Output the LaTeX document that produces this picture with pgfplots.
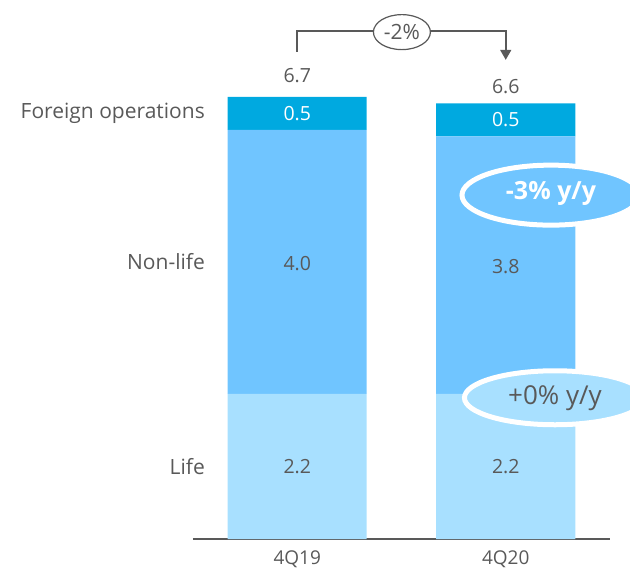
\documentclass[border=0pt]{standalone}
\usepackage{pgfplots}
\pgfplotsset{compat=1.18}
\usepackage{fontspec}
\setmainfont{Open Sans}
\usetikzlibrary{arrows.meta}
\definecolor{cfo}{HTML}{00A9E0}
\definecolor{cnl}{HTML}{70C5FF}
\definecolor{cli}{HTML}{A8E0FF}
\definecolor{ctg}{HTML}{595959}
\tikzset{lab/.style={font=\fontsize{19.5}{22}\selectfont, text=ctg},
  cat/.style={font=\fontsize{21}{24}\selectfont, text=ctg, anchor=east, inner sep=0pt}}
\begin{document}
\begin{tikzpicture}
\path[use as bounding box] (-193pt,-35pt) rectangle (437pt,539pt);
\begin{axis}[
  at={(0pt,0pt)}, anchor=south west,
  scale only axis, width=417pt, height=539pt,
  xmin=-0.5, xmax=1.5, ymin=0, ymax=8.1667,
  ybar stacked, bar width=139pt,
  hide y axis, axis x line*=bottom,
  x axis line style={draw=ctg, line width=1.6pt, -},
  xtick={0,1}, xticklabels={4Q19,4Q20},
  major tick length=0pt,
  xticklabel style={font=\fontsize{19}{22}\selectfont, text=ctg, yshift=-8pt},
  clip=false,
]
\addplot[fill=cli, draw=none] coordinates {(0,2.2) (1,2.2)};
\addplot[fill=cnl, draw=none] coordinates {(0,4.0) (1,3.9)};
\addplot[fill=cfo, draw=none] coordinates {(0,0.5) (1,0.5)};

\coordinate (l0) at (axis cs:0,1.1);
\coordinate (l1) at (axis cs:1,1.1);
\coordinate (n0) at (axis cs:0,4.17);
\coordinate (n1) at (axis cs:1,4.12);
\coordinate (f0) at (axis cs:0,6.45);
\coordinate (f1) at (axis cs:1,6.35);
\coordinate (t0) at (axis cs:0,7.02);
\coordinate (t1) at (axis cs:1,6.86);
\coordinate (cf) at (axis cs:-0.4424,6.45);
\coordinate (cn) at (axis cs:-0.4424,4.2);
\coordinate (cl) at (axis cs:-0.4424,1.1);
\coordinate (a1) at (axis cs:0,7.38);
\coordinate (a2) at (axis cs:0,7.70);
\coordinate (a3) at (axis cs:1,7.70);
\coordinate (a4) at (axis cs:1,7.26);
\coordinate (e0) at (axis cs:0.502,7.68);
\coordinate (e1) at (axis cs:1.217,5.21);
\coordinate (e2) at (axis cs:1.236,2.14);
\end{axis}

\node[lab] at (l0) {2.2};
\node[lab] at (l1) {2.2};
\node[lab] at (n0) {4.0};
\node[lab] at (n1) {3.8};
\node[lab, text=white] at (f0) {0.5};
\node[lab, text=white] at (f1) {0.5};
\node[lab] at (t0) {6.7};
\node[lab] at (t1) {6.6};
\node[cat] at (cf) {Foreign operations};
\node[cat] at (cn) {Non-life};
\node[cat] at (cl) {Life};

\draw[ctg, line width=1.6pt, -{Triangle[length=10pt,width=11pt]}]
  (a1) -- (a2) -- (a3) -- (a4);
\draw[ctg, line width=1.2pt, fill=white] (e0) ellipse (28.5pt and 17.5pt);
\node[font=\fontsize{21}{24}\selectfont, text=ctg] at (e0) {-2\%};

\draw[white, line width=5pt, fill=cnl] (e1) ellipse (89pt and 30pt);
\node[font=\fontsize{25}{28}\selectfont\bfseries, text=white] at ([yshift=2pt]e1) {-3\% y/y};
\draw[white, line width=5pt, fill=cli] (e2) ellipse (90.5pt and 27pt);
\node[font=\fontsize{26}{28}\selectfont, text=ctg] at (e2) {+0\% y/y};
\end{tikzpicture}
\end{document}
